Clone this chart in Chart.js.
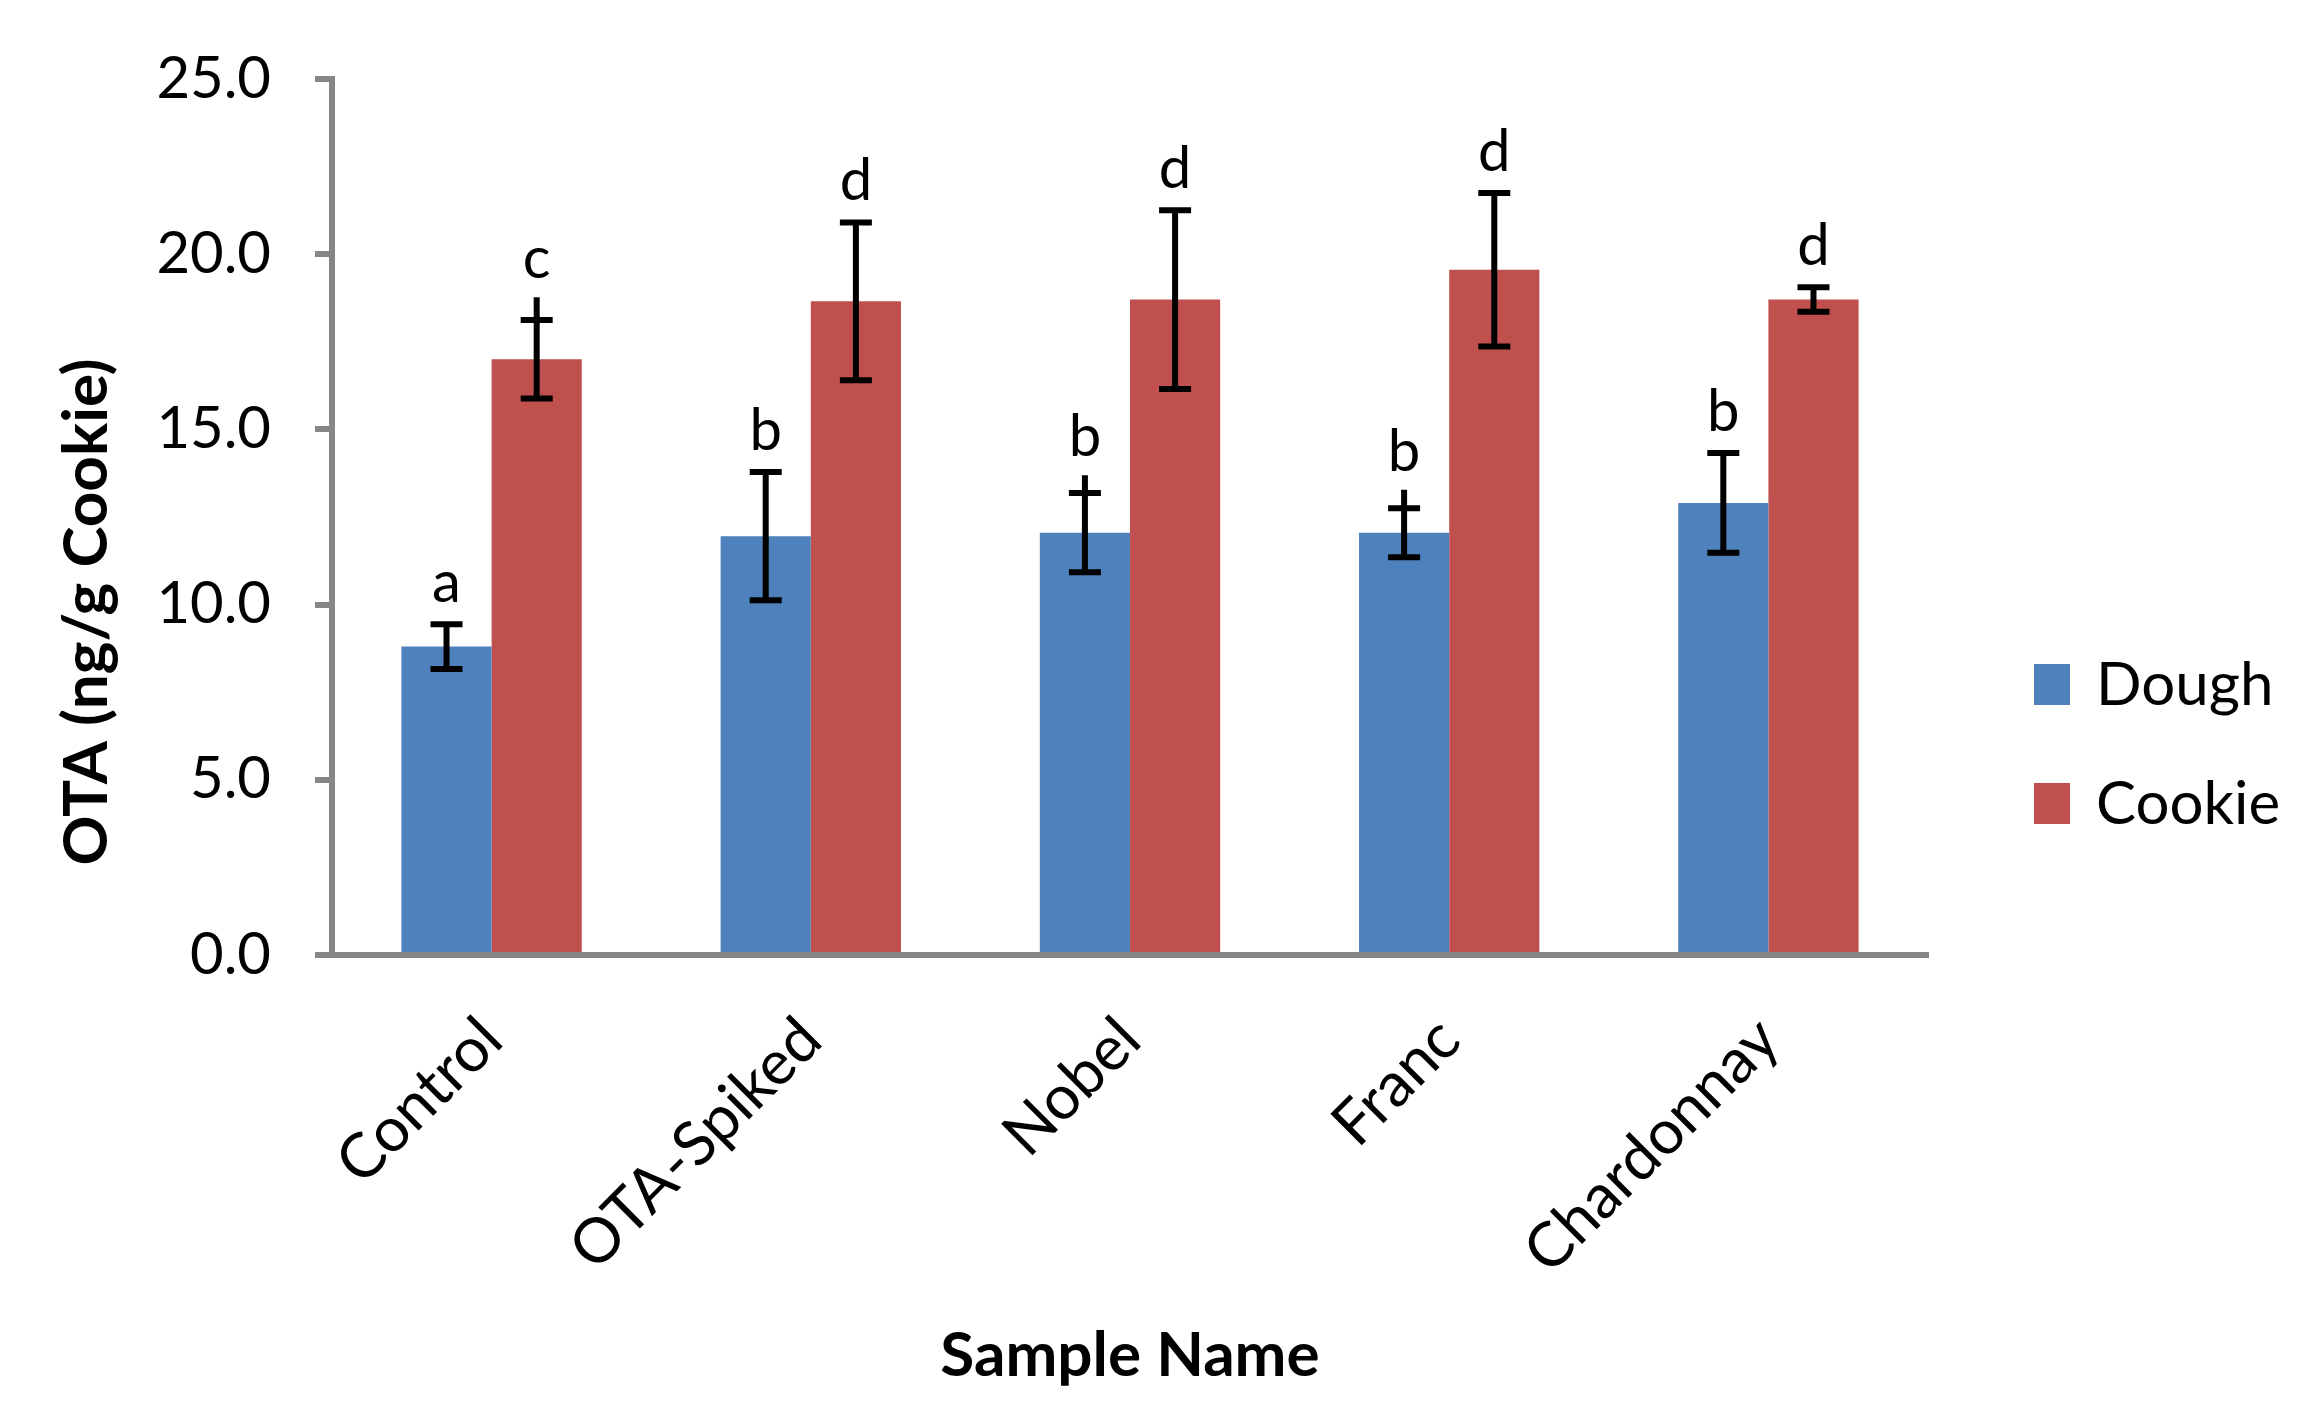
<!DOCTYPE html>
<html>
<head>
<meta charset="utf-8">
<script src="https://cdn.jsdelivr.net/npm/chart.js@4.4.0/dist/chart.umd.min.js"></script>
<style>
  html, body { margin: 0; padding: 0; background: #fff; }
</style>
</head>
<body>
<canvas id="grafico" width="2316" height="1421"></canvas>
<script>
// categories and values
const samples = ['Control', 'OTA-Spiked', 'Nobel', 'Franc', 'Chardonnay'];
const dough = [8.8, 11.95, 12.05, 12.05, 12.9];
const doughErr = [0.64, 1.83, 1.13, 0.70, 1.42];
const doughStem = [0, 0, 0.42, 0.44, 0];      // bit of the stem sticking out above the cap
const doughLetters = ['a', 'b', 'b', 'b', 'b'];
const cookie = [17.0, 18.65, 18.7, 19.55, 18.7];
const cookieErr = [1.12, 2.25, 2.55, 2.19, 0.35];
const cookieStem = [0.56, 0, 0, 0, 0];
const cookieLetters = ['c', 'd', 'd', 'd', 'd'];
const yTicks = [0, 5, 10, 15, 20, 25];

const FONT = 'Lato';
const axisGray = '#868686';

const errs = [doughErr, cookieErr];
const stems = [doughStem, cookieStem];
const letters = [doughLetters, cookieLetters];

// error bars + letters on top of the bars
const errorBars = {
    id: 'errorBars',
    afterDatasetsDraw(chart) {
        const ctx = chart.ctx;
        const y = chart.scales.y;
        ctx.save();
        ctx.strokeStyle = '#000';
        ctx.fillStyle = '#000';
        ctx.lineWidth = 6;
        ctx.font = '58px ' + FONT;
        ctx.textAlign = 'center';
        ctx.textBaseline = 'alphabetic';
        chart.data.datasets.forEach(function (ds, d) {
            const meta = chart.getDatasetMeta(d);
            meta.data.forEach(function (bar, i) {
                const v = ds.data[i];
                const e = errs[d][i];
                const top = y.getPixelForValue(v + e);
                const bot = y.getPixelForValue(v - e);
                const stemTop = y.getPixelForValue(v + e + stems[d][i]);
                ctx.beginPath();
                ctx.moveTo(bar.x, stemTop - 3);
                ctx.lineTo(bar.x, bot);
                ctx.moveTo(bar.x - 16, top);
                ctx.lineTo(bar.x + 16, top);
                ctx.moveTo(bar.x - 16, bot);
                ctx.lineTo(bar.x + 16, bot);
                ctx.stroke();
                ctx.fillText(letters[d][i], bar.x, stemTop - 22);
            });
        });
        ctx.restore();
    },
    afterDraw(chart) {
        const ctx = chart.ctx;
        ctx.save();
        // y axis title
        ctx.fillStyle = '#000';
        ctx.font = 'bold 62px ' + FONT;
        ctx.textAlign = 'center';
        ctx.textBaseline = 'middle';
        ctx.translate(87, 612);
        ctx.rotate(-Math.PI / 2);
        ctx.fillText('OTA (ng/g Cookie)', 0, 0);
        ctx.restore();

        // legend
        ctx.save();
        ctx.font = '60px ' + FONT;
        ctx.textAlign = 'left';
        ctx.textBaseline = 'middle';
        chart.data.datasets.forEach(function (ds, d) {
            const cy = 684 + d * 119;
            ctx.fillStyle = ds.backgroundColor;
            ctx.fillRect(2034, cy - 20, 36, 41);
            ctx.fillStyle = '#000';
            ctx.fillText(ds.label, 2096, cy + 2);
        });
        ctx.restore();
    }
};

const data = {
    labels: samples,
    datasets: [{
        label: 'Dough',
        data: dough,
        backgroundColor: '#4F81BD',
        categoryPercentage: 0.565,
        barPercentage: 1.0
    }, {
        label: 'Cookie',
        data: cookie,
        backgroundColor: '#C0504D',
        categoryPercentage: 0.565,
        barPercentage: 1.0
    }]
};

const config = {
    type: 'bar',
    data: data,
    options: {
        responsive: false,
        animation: false,
        devicePixelRatio: 1,
        layout: { padding: { top: 67, right: 388, bottom: 0, left: 0 } },
        plugins: {
            legend: { display: false },
            tooltip: { enabled: false }
        },
        scales: {
            x: {
                grid: { display: false },
                border: { color: axisGray, width: 6 },
                ticks: {
                    color: '#000',
                    font: { family: FONT, size: 62 },
                    minRotation: 45,
                    maxRotation: 45,
                    padding: 40
                },
                title: {
                    display: true,
                    text: 'Sample Name',
                    color: '#000',
                    font: { family: FONT, size: 62, weight: 'bold' },
                    padding: { top: 0, bottom: 28 }
                },
                afterFit: function (scale) { scale.height = 466; }
            },
            y: {
                min: 0,
                max: 25,
                afterBuildTicks: function (scale) {
                    scale.ticks = yTicks.map(function (v) { return { value: v }; });
                },
                grid: {
                    drawOnChartArea: false,
                    drawTicks: true,
                    tickLength: 17,
                    color: axisGray,
                    lineWidth: 6
                },
                border: { color: axisGray, width: 6 },
                ticks: {
                    color: '#000',
                    font: { family: FONT, size: 58 },
                    padding: 44,
                    callback: function (v) { return Number(v).toFixed(1); }
                },
                afterFit: function (scale) { scale.width = 332; }
            }
        }
    },
    plugins: [errorBars]
};

const grafico = new Chart(document.getElementById('grafico'), config);
</script>
</body>
</html>
